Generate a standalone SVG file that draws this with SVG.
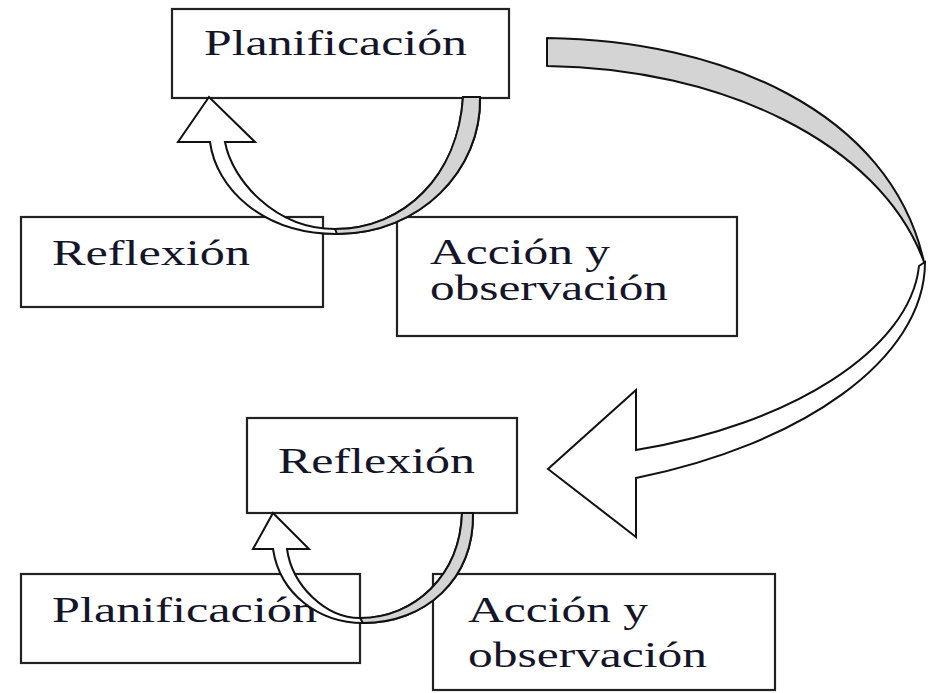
<svg xmlns="http://www.w3.org/2000/svg" width="930" height="693" viewBox="0 0 930 693">
<style>
.box{fill:#fff;stroke:#222;stroke-width:2.2}
.lbl{font-family:"Liberation Serif","Times New Roman",serif;font-size:35px;fill:#15152a}
.rib{fill:#fff;stroke:#111;stroke-width:2;stroke-linejoin:miter}
.back{fill:#d4d4d4;stroke:#111;stroke-width:2;stroke-linejoin:round}
</style>
<rect width="930" height="693" fill="#fff"/>
<g id="n-planificacion-1">
<rect class="box" x="172" y="9" width="337" height="89"/>
<text class="lbl" x="204" y="55" textLength="263" lengthAdjust="spacingAndGlyphs">Planificación</text>
</g>
<g id="n-reflexion-1">
<rect class="box" x="21" y="217" width="302" height="90"/>
<text class="lbl" x="52" y="265" textLength="198" lengthAdjust="spacingAndGlyphs">Reflexión</text>
</g>
<g id="n-accion-1">
<rect class="box" x="397" y="217" width="340" height="119"/>
<text class="lbl" x="430" y="264" textLength="180" lengthAdjust="spacingAndGlyphs">Acción y</text>
<text class="lbl" x="430" y="300" textLength="238" lengthAdjust="spacingAndGlyphs">observación</text>
</g>
<g id="n-reflexion-2">
<rect class="box" x="247" y="418" width="270" height="95"/>
<text class="lbl" x="278" y="473" textLength="197" lengthAdjust="spacingAndGlyphs">Reflexión</text>
</g>
<g id="n-planificacion-2">
<rect class="box" x="21" y="574" width="339" height="89"/>
<text class="lbl" x="52" y="622" textLength="265" lengthAdjust="spacingAndGlyphs">Planificación</text>
</g>
<g id="n-accion-2">
<rect class="box" x="433" y="574" width="342" height="116"/>
<text class="lbl" x="468" y="622" textLength="180" lengthAdjust="spacingAndGlyphs">Acción y</text>
<text class="lbl" x="468" y="667" textLength="239" lengthAdjust="spacingAndGlyphs">observación</text>
</g>
<g id="connectors">
<g id="loop-top">
<path class="rib" d="M480,97 C482,170 420,234 337,234 C262,234 216,188 210,142 L178,142 L209,97 L255,142 L225,142 C232,180 275,229 335,229 C405,229 458,175 463,97 Z"/>
<path class="back" d="M480,97 C482,170 420,234 337,234 L335,229 C405,229 458,175 463,97 Z"/>
</g>
<g id="loop-bottom">
<path class="rib" d="M473,513 C474,580 425,623 363,623 C320,623 280,595 273,549 L253,549 L273,513 L309,549 L287,549 C292,585 325,618 360,618 C415,618 460,575 462,513 Z"/>
<path class="back" d="M473,513 C474,580 425,623 363,623 L360,618 C415,618 460,575 462,513 Z"/>
</g>
<g id="big-arrow">
<path class="back" d="M547,38 C720,40 890,110 924,262 C880,142 720,68 547,66 Z"/>
<path class="rib" d="M925,262 C925,360 800,445 636,478 L636,537 L548,469 L636,390 L636,450 C790,425 910,350 919,266 Z"/>
</g>
</g>
</svg>
